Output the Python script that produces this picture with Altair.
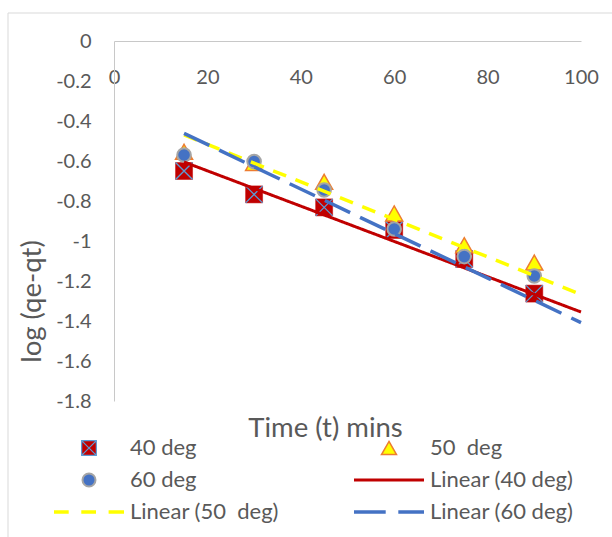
import altair as alt
import pandas as pd

# ---------------- data ----------------
time_min = [15, 30, 45, 60, 75, 90]
deg40 = [-0.650, -0.767, -0.832, -0.945, -1.090, -1.263]
deg50 = [-0.554, -0.610, -0.704, -0.862, -1.021, -1.108]
deg60 = [-0.570, -0.603, -0.745, -0.940, -1.078, -1.175]

trend_time = [15, 100]
lin40 = [-0.605, -1.355]
lin50 = [-0.470, -1.267]
lin60 = [-0.462, -1.408]

point_names = ["40 deg", "50  deg", "60 deg"]
line_names = ["Linear (40 deg)", "Linear (50  deg)", "Linear (60 deg)"]
x_ticks = [0, 20, 40, 60, 80, 100]
y_ticks = [0, -0.2, -0.4, -0.6, -0.8, -1, -1.2, -1.4, -1.6, -1.8]

# ---------------- tables ----------------
def series_df(name, ts, vals):
    return pd.DataFrame({"t": ts, "v": vals, "series": [name] * len(ts)})

df40 = series_df(point_names[0], time_min, deg40)
df50 = series_df(point_names[1], time_min, deg50)
df60 = series_df(point_names[2], time_min, deg60)
lines_df = pd.concat([series_df(n, trend_time, v)
                      for n, v in zip(line_names, [lin40, lin50, lin60])], ignore_index=True)

# legend is laid out column by column (2 columns, 3 rows), reading row-wise like the original
legend_order = [point_names[0], point_names[2], line_names[1],
                point_names[1], line_names[0], line_names[2]]
legend_df = pd.DataFrame({"series": legend_order, "t": [None] * 6, "v": [None] * 6})

# ---------------- styles ----------------
FONT = "Lato"
GREY = "#595959"
SQUARE = "M-1,-1H1V1H-1Z"
XCROSS = "M-1,-1L1,1M1,-1L-1,1"
SQUARE_X = SQUARE + " " + XCROSS
TRIANGLE = "M0,-0.88L1,0.88H-1Z"
CIRCLE = "M0.8,0A0.8,0.8 0 1,1 -0.8,0A0.8,0.8 0 1,1 0.8,0Z"
LINE_SOLID = "M-1,0L1,0"
LINE_DASH = "M-1,0L-0.58,0M-0.22,0L0.2,0M0.56,0L1,0"
LINE_LDASH = "M-1,0L-0.094,0M0.266,0L1,0"

style = {
    point_names[0]: dict(fill="#C00000", stroke="#5B9BD5", shape=SQUARE_X, size=216, sw=1.2),
    point_names[1]: dict(fill="#FFFF00", stroke="#ED7D31", shape=TRIANGLE, size=225, sw=1.5),
    point_names[2]: dict(fill="#4472C4", stroke="#A5A5A5", shape=CIRCLE, size=264, sw=2),
    line_names[0]: dict(fill="transparent", stroke="#C00000", shape=LINE_SOLID, size=4900, sw=3),
    line_names[1]: dict(fill="transparent", stroke="#FFFF00", shape=LINE_DASH, size=4900, sw=3.5),
    line_names[2]: dict(fill="transparent", stroke="#4472C4", shape=LINE_LDASH, size=4900, sw=3.5),
}


def rng(key):
    return [style[n][key] for n in legend_order]

fill_scale = alt.Scale(domain=legend_order, range=rng("fill"))
stroke_scale = alt.Scale(domain=legend_order, range=rng("stroke"))
shape_scale = alt.Scale(domain=legend_order, range=rng("shape"))
width_scale = alt.Scale(type="ordinal", domain=legend_order, range=rng("sw"))
size_scale = alt.Scale(type="ordinal", domain=legend_order, range=rng("size"))
dash_scale = alt.Scale(domain=line_names, range=[[1, 0], [14, 10], [28, 11]])

x_axis = alt.Axis(orient="bottom", offset=-360, values=x_ticks, ticks=False,
                  grid=False, domainColor="#C8C8C8", domainWidth=1,
                  labelFont=FONT, labelFontSize=20, labelColor=GREY,
                  labelPadding=26, labelFlush=False, labelOverlap=False,
                  title="Time (t) mins", titleFont=FONT, titleFontSize=27.5,
                  titleFontWeight="normal", titleColor=GREY,
                  titleX=211, titleY=387, titleBaseline="middle")
y_axis = alt.Axis(values=y_ticks, ticks=False, grid=False,
                  domainColor="#C8C8C8", domainWidth=1,
                  labelFont=FONT, labelFontSize=20, labelColor=GREY,
                  labelPadding=23, labelFlush=False, labelOverlap=False,
                  labelExpr="'' + datum.value",
                  title="log (qe-qt)", titleFont=FONT, titleFontSize=27.5,
                  titleFontWeight="normal", titleColor=GREY,
                  titleX=-82, titleY=260, titleAngle=-90,
                  titleBaseline="middle", titleAlign="center")
x_scale = alt.Scale(domain=[0, 100], nice=False)
y_scale = alt.Scale(domain=[-1.8, 0], nice=False)


def xe():
    return alt.X("t:Q", scale=x_scale, axis=x_axis)


def ye():
    return alt.Y("v:Q", scale=y_scale, axis=y_axis)


leg = alt.Legend(orient="none", legendX=-62, legendY=397, columns=2, columnPadding=73,
                 rowPadding=10, clipHeight=20, labelFont=FONT, labelFontSize=22,
                 labelColor=GREY, labelOffset=4, title=None, padding=0, labelLimit=0,
                 symbolOpacity=1,
                 labelExpr="replace(datum.label, '  ', '\u00a0 ')")

# decorative chart-area frame (top and left edges)
frame_top = alt.Chart(pd.DataFrame({"k": [0]})).mark_rule(color="#D9D9D9", strokeWidth=1).encode(
    x=alt.value(-106), x2=alt.value(498), y=alt.value(-28))
frame_left = alt.Chart(pd.DataFrame({"k": [0]})).mark_rule(color="#D9D9D9", strokeWidth=1).encode(
    x=alt.value(-106), y=alt.value(-28), y2=alt.value(496))

PLOT_SIZE = 289
pts40 = alt.Chart(df40).mark_point(shape=SQUARE, filled=True, fill="#C00000", stroke="#C00000",
                                   strokeWidth=0.5, opacity=1, size=PLOT_SIZE).encode(x=xe(), y=ye())
pts40x = alt.Chart(df40).mark_point(shape=XCROSS, filled=False, stroke="#5B9BD5",
                                    strokeWidth=1.3, opacity=1, size=PLOT_SIZE).encode(x=xe(), y=ye())
pts50 = alt.Chart(df50).mark_point(shape=TRIANGLE, filled=True, fill="#FFFF00", stroke="#ED7D31",
                                   strokeWidth=1.5, opacity=1, size=PLOT_SIZE).encode(x=xe(), y=ye())
pts60 = alt.Chart(df60).mark_point(shape=CIRCLE, filled=True, fill="#4472C4", stroke="#A5A5A5",
                                   strokeWidth=2, opacity=1, size=PLOT_SIZE).encode(x=xe(), y=ye())

lines = alt.Chart(lines_df).mark_line(opacity=1).encode(
    x=xe(), y=ye(),
    stroke=alt.Stroke("series:N", scale=stroke_scale, legend=leg),
    strokeWidth=alt.StrokeWidth("series:N", scale=width_scale, legend=leg),
    strokeDash=alt.StrokeDash("series:N", scale=dash_scale, legend=None),
)

legend_layer = alt.Chart(legend_df).mark_point(filled=True, opacity=1).encode(
    x=xe(), y=ye(),
    fill=alt.Fill("series:N", scale=fill_scale, legend=leg),
    stroke=alt.Stroke("series:N", scale=stroke_scale, legend=leg),
    shape=alt.Shape("series:N", scale=shape_scale, legend=leg),
    size=alt.Size("series:N", scale=size_scale, legend=leg),
    strokeWidth=alt.StrokeWidth("series:N", scale=width_scale, legend=leg),
)

chart = alt.layer(frame_top, frame_left, pts40, pts40x, pts50, pts60, lines, legend_layer).properties(
    width=467, height=360,
    padding={"left": 114, "top": 41, "right": 31, "bottom": 136},
    autosize=alt.AutoSizeParams(type="none"),
    background="white",
).configure_view(stroke=None).configure_axis(labelOverlap=False)

chart.save("out.html", embed_options={"renderer": "svg", "actions": False})
